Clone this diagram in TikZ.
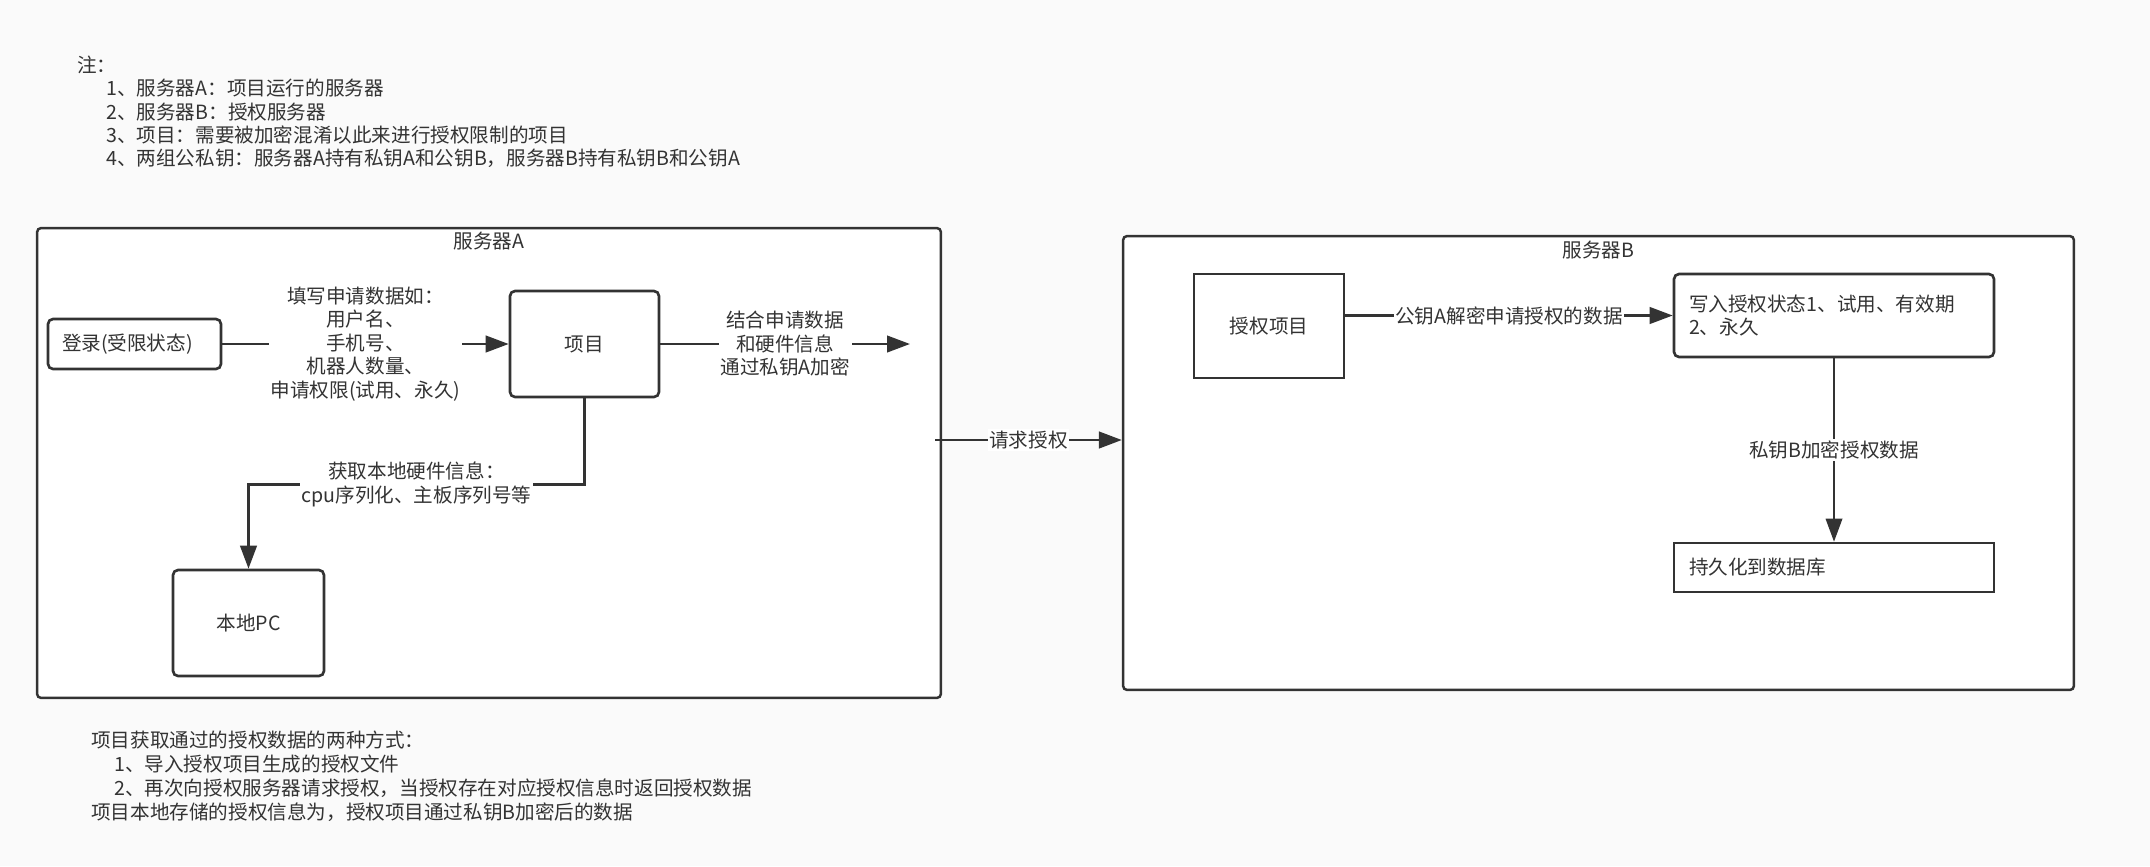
\documentclass[tikz,border=0pt]{standalone}
\usepackage{fontspec}
\setmainfont{Noto Sans CJK SC}
\usetikzlibrary{arrows.meta,positioning}

\definecolor{ink}{HTML}{333333}
\definecolor{paper}{HTML}{FAFAFA}

\tikzset{
    txt/.style={font=\fontsize{11.15}{13.4}\selectfont, text=ink, inner sep=0pt},
    box/.style={txt, draw=ink, line width=1.5pt, fill=white, rounded corners=0.1cm, align=center},
    sqbox/.style={box, rounded corners=0pt},
    server/.style={draw=ink, line width=1.4pt, fill=white, rounded corners=0.08cm},
    arr/.style={draw=ink, line width=1.5pt, -{Triangle[length=0.46cm,width=0.33cm]}},
    lbl/.style={txt, fill=white, inner sep=1pt, align=center},
}

\begin{document}
\begin{tikzpicture}[x=0.02cm,y=-0.02cm]

    % Canvas
    \fill[paper] (0,0) rectangle (2150,866);
    \useasboundingbox (0,0) rectangle (2150,866);

    % Notes
    \node[txt, anchor=west] (noteHead) at (77,65) {注：};
    \node[txt, anchor=west] (note1) at (106,88.5) {1、服务器A：项目运行的服务器};
    \node[txt, anchor=west] (note2) at (106,112) {2、服务器B：授权服务器};
    \node[txt, anchor=west] (note3) at (106,135) {3、项目：需要被加密混淆以此来进行授权限制的项目};
    \node[txt, anchor=west] (note4) at (106,158) {4、两组公私钥：服务器A持有私钥A和公钥B，服务器B持有私钥B和公钥A};

    % Servers
    \node[server, minimum width=18.08cm, minimum height=9.4cm] (servA) at (489,463) {};
    \node[txt, below=0.09cm of servA.north] (titleA) {服务器A};
    \node[server, minimum width=19.02cm, minimum height=9.08cm] (servB) at (1598.5,463) {};
    \node[txt, below=0.12cm of servB.north] (titleB) {服务器B};

    % Server A
    \node[box, minimum width=3.46cm, minimum height=1cm, text width=2.9cm, align=left, inner xsep=0.28cm]
        (login) at (134.5,344) {登录(受限状态)};
    \node[box, minimum width=2.98cm, minimum height=2.12cm] (xm) at (584.5,344) {项目};
    \node[box, minimum width=3.02cm, minimum height=2.12cm] (pc) at (248.5,623) {本地PC};
    \coordinate (encEnd) at (910,344);

    \draw[arr] (login) -- (xm)
        node[lbl, midway] {填写申请数据如：\\用户名、\\手机号、\\机器人数量、\\申请权限(试用、永久)};
    \draw[arr] (xm) -- (encEnd)
        node[lbl, midway] {结合申请数据\\和硬件信息\\通过私钥A加密};
    \draw[arr] (xm.south) -- ++(0,86) -| (pc.north)
        node[lbl, pos=0.25] {获取本地硬件信息：\\cpu序列化、主板序列号等};

    % Request
    \coordinate (reqStart) at (935,440);
    \draw[arr, line width=1.6pt] (reqStart) -- (reqStart -| servB.west)
        node[lbl, midway] {请求授权};

    % Server B
    \node[sqbox, minimum width=3cm, minimum height=2.08cm] (sq) at (1269,326) {授权项目};
    \node[box, minimum width=6.4cm, minimum height=1.66cm, text width=5.8cm, align=left, inner xsep=0.3cm]
        (wr) at (1834,315.5) {写入授权状态1、试用、有效期\\2、永久};
    \node[sqbox, minimum width=6.4cm, minimum height=0.98cm, text width=5.8cm, align=left, inner xsep=0.3cm]
        (db) at (1834,567.5) {持久化到数据库};

    \draw[arr] (sq.east |- wr.west) -- (wr.west)
        node[lbl, midway] {公钥A解密申请授权的数据};
    \draw[arr, line width=1.1pt] (wr) -- (db)
        node[lbl, midway] {私钥B加密授权数据};

    % Ways to get authorisation
    \node[txt, anchor=west] (wayHead) at (91,740) {项目获取通过的授权数据的两种方式：};
    \node[txt, anchor=west] (way1) at (114,764) {1、导入授权项目生成的授权文件};
    \node[txt, anchor=west] (way2) at (114,788) {2、再次向授权服务器请求授权，当授权存在对应授权信息时返回授权数据};
    \node[txt, anchor=west] (storeNote) at (91,812) {项目本地存储的授权信息为，授权项目通过私钥B加密后的数据};

\end{tikzpicture}
\end{document}
